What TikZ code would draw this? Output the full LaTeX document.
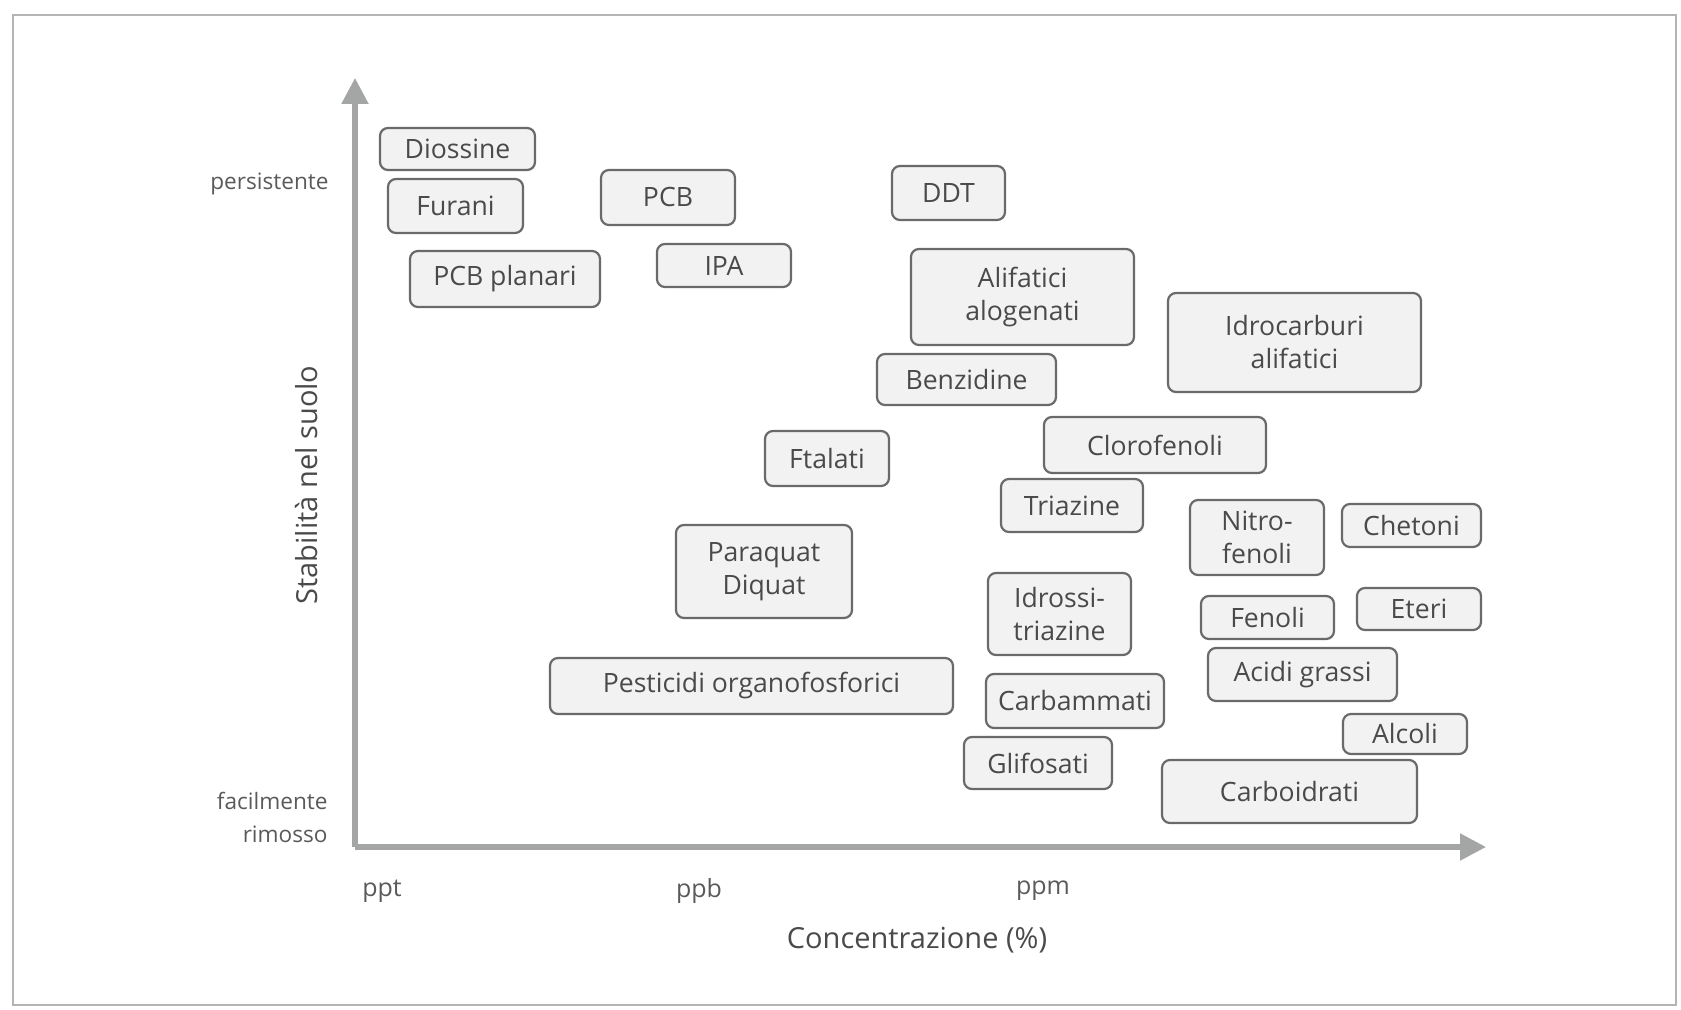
\documentclass[tikz,border=0pt]{standalone}
\usepackage{fontspec}
\setmainfont{Open Sans}
\usetikzlibrary{arrows.meta}
\definecolor{boxline}{HTML}{6A6A6A}
\definecolor{boxfill}{HTML}{F1F2F1}
\definecolor{boxtext}{HTML}{4A4A4A}
\definecolor{axisgray}{HTML}{A3A6A4}
\definecolor{framegray}{HTML}{B4B4B4}
\definecolor{labeltext}{HTML}{5A5A5A}
\tikzset{
  cbox/.style={draw=boxline, line width=1.1pt, fill=boxfill, rounded corners=4pt,
    text=boxtext, font=\fontsize{13.3}{16.5}\selectfont, align=center,
    inner sep=0pt},
  axisline/.style={draw=axisgray, line width=2.6pt,
    -{Triangle[length=13pt,width=13pt]}},
  ticklabel/.style={text=labeltext, font=\fontsize{12.5}{15}\selectfont},
  endlabel/.style={text=labeltext, font=\fontsize{11.3}{16.5}\selectfont, align=right,
    anchor=east, inner sep=0pt},
  axistitle/.style={text=boxtext, font=\fontsize{14.5}{17}\selectfont},
}
\newcommand{\cb}[6]{\node[cbox, minimum width=#4pt, minimum height=#5pt] (#1) at (#2,#3) {#6};}
\begin{document}
\begin{tikzpicture}[x=0.5pt, y=-0.5pt]
  % page and outer frame
  \useasboundingbox (0,0) rectangle (1681,1010);
  \fill[white] (0,0) rectangle (1681,1010);
  \draw[framegray, line width=1.4pt] (13,15) rectangle (1676,1005);

  % axes
  \coordinate (origin) at (355,847);
  \coordinate (ytip) at (355,78);
  \coordinate (xtip) at (1486,847);
  \draw[axisline] (origin) -- (ytip);
  \draw[axisline] (origin) -- (xtip);

  % axis labels
  \node[endlabel] (pers) at (329,184) {persistente};
  \node[endlabel] (facil) at (328,817) {facilmente\\rimosso};
  \node[axistitle, rotate=90] (ytitle) at (307,485) {Stabilità nel suolo};
  \node[ticklabel] (ppt) at (382,891) {ppt};
  \node[ticklabel] (ppb) at (699,891) {ppb};
  \node[ticklabel] (ppm) at (1043,891) {ppm};
  \node[axistitle] (xtitle) at (917,940) {Concentrazione (\%)};

  % substances: name, centre x, centre y, width, height (pt), text
  \cb{diossine}{457.5}{149}{77.5}{21}{Diossine}
  \cb{furani}{455.5}{206}{67.5}{27}{Furani}
  \cb{pcbplan}{505}{279}{95}{28}{PCB planari}
  \cb{pcb}{668}{197.5}{67}{27.5}{PCB}
  \cb{ipa}{724}{265.5}{67}{21.5}{IPA}
  \cb{ddt}{948.5}{193}{56.5}{27}{DDT}
  \cb{alifalog}{1022.5}{297}{111.5}{48}{Alifatici\\alogenati}
  \cb{benzidine}{966.5}{379.5}{89.5}{25.5}{Benzidine}
  \cb{idrocarb}{1294.5}{342.5}{126.5}{49.5}{Idrocarburi\\alifatici}
  \cb{clorofen}{1155}{445}{111}{28}{Clorofenoli}
  \cb{ftalati}{827}{458.5}{62}{27.5}{Ftalati}
  \cb{triazine}{1072}{505.5}{71}{26.5}{Triazine}
  \cb{nitrofen}{1257}{537.5}{67}{37.5}{Nitro-\\fenoli}
  \cb{chetoni}{1411.5}{525.5}{69.5}{21.5}{Chetoni}
  \cb{paraquat}{764}{571.5}{88}{46.5}{Paraquat\\Diquat}
  \cb{idrossi}{1059.5}{614}{71.5}{41}{Idrossi-\\triazine}
  \cb{fenoli}{1267.5}{617.5}{66.5}{21.5}{Fenoli}
  \cb{eteri}{1419}{609}{62}{21}{Eteri}
  \cb{pesticidi}{751.5}{686}{201.5}{28}{Pesticidi organofosforici}
  \cb{carbamm}{1075}{701}{89}{27}{Carbammati}
  \cb{acidi}{1302.5}{674.5}{94.5}{26.5}{Acidi grassi}
  \cb{alcoli}{1405}{734}{62}{20}{Alcoli}
  \cb{glifosati}{1038}{763}{74}{26}{Glifosati}
  \cb{carboidr}{1289.5}{791.5}{127.5}{31.5}{Carboidrati}
\end{tikzpicture}
\end{document}
